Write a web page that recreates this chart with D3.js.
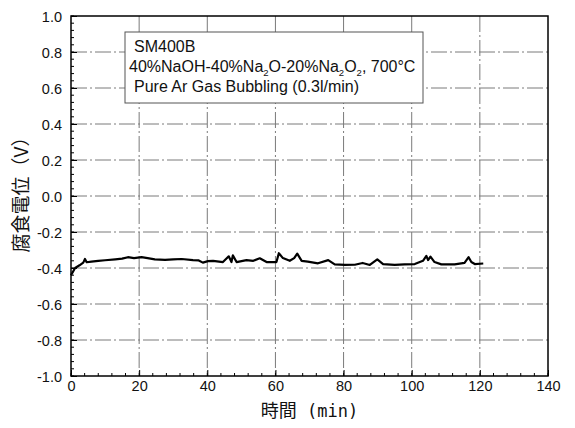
<!DOCTYPE html>
<html>
<head>
<meta charset="utf-8">
<script src="https://cdn.jsdelivr.net/npm/d3@7/dist/d3.min.js"></script>
<style>
  html, body { margin: 0; padding: 0; background: #fff; }
  svg { display: block; }
  text { font-family: "Liberation Sans", Arial, sans-serif; fill: #111; }
</style>
</head>
<body>
<svg id="chart" width="575" height="428"></svg>
<script>
// Corrosion potential vs time, SM400B in NaOH-Na2O-Na2O2 melt
const timeMin = [0, 1.2, 2.5, 3.6, 4.1, 4.6, 6, 8, 10, 13, 15, 16.7, 18.5, 20.7, 22.5, 24.6, 27.6, 30, 32.5, 35.8, 37.5, 38.7, 40.2, 41.7, 44.6, 46.3, 47.1, 47.5, 48.6, 51.5, 53.5, 55.4, 57.4, 60.3, 61, 62.2, 64.2, 65.5, 66.4, 67.7, 69.5, 72.5, 75.5, 77.4, 80.4, 83.3, 85.6, 87.7, 89.9, 91.6, 95, 97.9, 100.9, 103.3, 104.3, 104.8, 105.5, 106.7, 108.7, 112.6, 115.5, 116.7, 117.5, 118.5, 121];
const potentialV = [-0.44, -0.40, -0.385, -0.37, -0.35, -0.368, -0.365, -0.36, -0.357, -0.352, -0.348, -0.34, -0.345, -0.34, -0.345, -0.352, -0.355, -0.352, -0.35, -0.356, -0.358, -0.37, -0.362, -0.36, -0.367, -0.335, -0.367, -0.33, -0.367, -0.356, -0.36, -0.346, -0.367, -0.367, -0.318, -0.345, -0.36, -0.345, -0.32, -0.36, -0.365, -0.374, -0.356, -0.38, -0.383, -0.382, -0.372, -0.383, -0.352, -0.378, -0.383, -0.38, -0.378, -0.36, -0.333, -0.356, -0.337, -0.367, -0.38, -0.38, -0.372, -0.34, -0.367, -0.378, -0.375];

const xTicks = [0, 20, 40, 60, 80, 100, 120, 140];
const yTicks = [1.0, 0.8, 0.6, 0.4, 0.2, 0.0, -0.2, -0.4, -0.6, -0.8, -1.0];
const xMinor = d3.range(0, 140.01, 4);
const yMinor = d3.range(-1.0, 1.001, 0.04);

const xLabelJa = "時間";
const xLabelUnit = " (min)";
const yLabel = "腐食電位（V）";

const svg = d3.select("#chart");
const m = { left: 71, right: 27, top: 16, bottom: 52 };
const W = 575, H = 428;
const x = d3.scaleLinear().domain([0, 140]).range([m.left, W - m.right]);
const y = d3.scaleLinear().domain([-1, 1]).range([H - m.bottom, m.top]);

// grid
const grid = svg.append("g").attr("stroke", "#7a7a7a").attr("stroke-width", 1)
  .attr("stroke-dasharray", "16,3,2,3").attr("fill", "none");
grid.selectAll("line.v").data(xTicks.slice(1, -1)).join("line")
  .attr("x1", d => x(d)).attr("x2", d => x(d))
  .attr("y1", y(1)).attr("y2", y(-1));
grid.selectAll("line.h").data(yTicks.slice(1, -1)).join("line")
  .attr("x1", x(0)).attr("x2", x(140))
  .attr("y1", d => y(d)).attr("y2", d => y(d));

// frame
svg.append("rect").attr("x", x(0)).attr("y", y(1))
  .attr("width", x(140) - x(0)).attr("height", y(-1) - y(1))
  .attr("fill", "none").attr("stroke", "#000").attr("stroke-width", 1.5);

// axes with inward ticks
const fmtY = d => d3.format(".1f")(d).replace("−", "-");
const xAxis = svg.append("g").attr("transform", `translate(0,${y(-1)})`)
  .call(d3.axisBottom(x).tickValues(xTicks).tickSize(-6).tickPadding(5).tickFormat(d3.format("d")));
const yAxis = svg.append("g").attr("transform", `translate(${x(0)},0)`)
  .call(d3.axisLeft(y).tickValues(yTicks).tickSize(-6).tickPadding(9).tickFormat(fmtY));
[xAxis, yAxis].forEach(a => {
  a.select(".domain").remove();
  a.selectAll(".tick line").attr("stroke", "#000").attr("stroke-width", 1);
  a.selectAll(".tick text").style("font-family", "'Liberation Sans', Arial, sans-serif")
    .style("font-size", "14.5px").attr("fill", "#111");
});
yAxis.selectAll(".tick text").attr("dy", "0.36em");

// minor ticks
svg.append("g").selectAll("line").data(xMinor).join("line")
  .attr("x1", d => x(d)).attr("x2", d => x(d))
  .attr("y1", y(-1)).attr("y2", y(-1) - 3).attr("stroke", "#000");
svg.append("g").selectAll("line").data(yMinor).join("line")
  .attr("x1", x(0)).attr("x2", x(0) + 3)
  .attr("y1", d => y(d)).attr("y2", d => y(d)).attr("stroke", "#000");

// legend box
const lg = svg.append("g");
lg.append("rect").attr("x", 125).attr("y", 32).attr("width", 298).attr("height", 71)
  .attr("fill", "#fff").attr("stroke", "#555").attr("stroke-width", 1);
lg.append("text").attr("x", 134).attr("y", 52).style("font-size", "16px").text("SM400B");
const t2 = lg.append("text").attr("x", 129).attr("y", 72).style("font-size", "16px");
const parts = [["40%NaOH-40%Na", 0], ["2", 1], ["O-20%Na", 0], ["2", 1], ["O", 0], ["2", 1], [", 700°C", 0]];
parts.forEach(([s, sub], i) => {
  const ts = t2.append("tspan").text(s);
  if (sub) ts.attr("dy", 4).style("font-size", "9.5px");
  else ts.attr("dy", i > 0 ? -4 : 0);
});
lg.append("text").attr("x", 134).attr("y", 92).style("font-size", "16px").text("Pure Ar Gas Bubbling (0.3l/min)");

// curve
const line = d3.line().x((d, i) => x(timeMin[i])).y(d => y(d));
svg.append("path").datum(potentialV).attr("d", line)
  .attr("fill", "none").attr("stroke", "#000").attr("stroke-width", 2.2).attr("stroke-linejoin", "round");

// axis titles
const xt = svg.append("text").attr("x", (x(0) + x(140)) / 2).attr("y", 417).attr("text-anchor", "middle")
  .style("font-size", "18px");
xt.append("tspan").style("font-family", "'Noto Sans CJK JP', sans-serif").text(xLabelJa);
xt.append("tspan").style("font-family", "'DejaVu Sans Mono', monospace").style("font-size", "17px").text(xLabelUnit);
svg.append("text").attr("transform", `translate(28,190) rotate(-90)`).attr("text-anchor", "middle")
  .style("font-family", "'Noto Sans CJK JP', sans-serif").style("font-size", "19px").text(yLabel);
</script>
</body>
</html>
